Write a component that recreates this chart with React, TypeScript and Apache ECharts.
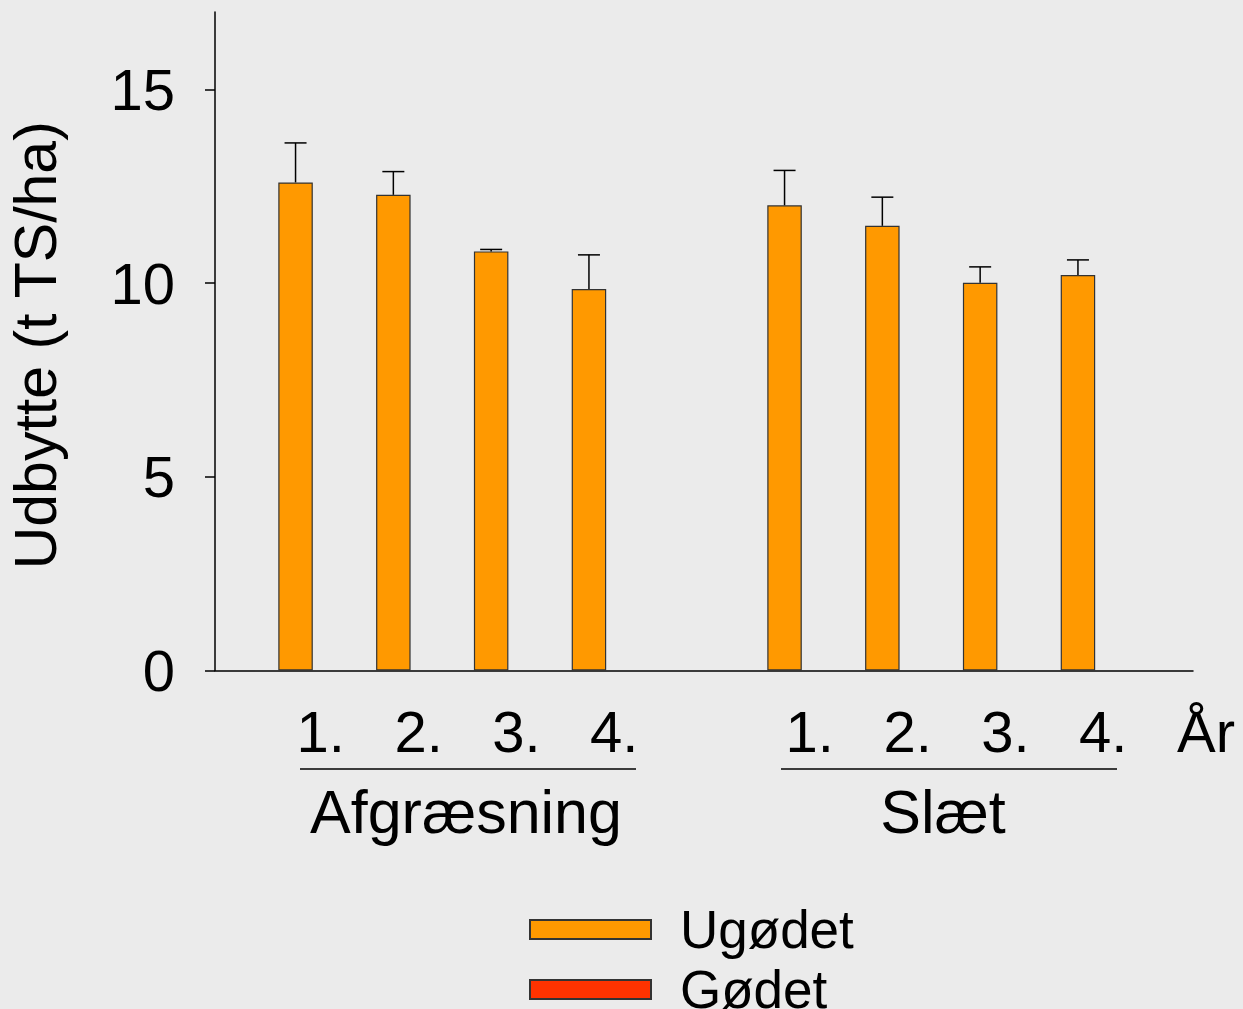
import React, { useEffect, useRef } from 'react';
import * as echarts from 'echarts';

const categories = ['', '1.', '2.', '3.', '4.', '', '1.', '2.', '3.', '4.', ''];
const ugodetValues = [null, 12.6, 12.28, 10.82, 9.85, null, 12.01, 11.48, 10.01, 10.21, null];
const ugodetErrors = [null, 1.02, 0.6, 0.05, 0.88, null, 0.9, 0.74, 0.41, 0.39, null];
const godetValues = [null, null, null, null, null, null, null, null, null, null, null];
const yTickValues = [0, 5, 10, 15];
const groupNames = ['Afgræsning', 'Slæt'];
const seriesNames = ['Ugødet', 'Gødet'];
const yAxisTitle = 'Udbytte (t TS/ha)';
const xAxisUnit = 'År';

const FONT = '"Liberation Sans", Arial, Helvetica, sans-serif';
const BAR_W = 34.5;

export default function App() {
  const ref = useRef<HTMLDivElement>(null);

  useEffect(() => {
    if (!ref.current) return;
    const chart = echarts.init(ref.current, undefined, { renderer: 'svg' });

    const errData: any[] = [];
    ugodetValues.forEach((v, i) => {
      if (v != null && ugodetErrors[i] != null) {
        errData.push([i, v, v + (ugodetErrors[i] as number)]);
      }
    });

    const option: any = {
      animation: false,
      backgroundColor: '#ebebeb',
      textStyle: { fontFamily: FONT, color: '#000' },
      grid: {
        left: 215,
        right: 50,
        top: 12,
        bottom: 338.5,
        containLabel: false,
        outerBoundsMode: 'none',
      },
      xAxis: {
        type: 'category',
        data: categories,
        boundaryGap: false,
        axisLine: { show: true, lineStyle: { color: '#000', width: 1.5 } },
        axisTick: { show: false },
        axisLabel: {
          interval: 0,
          fontSize: 58,
          color: '#000',
          fontFamily: FONT,
          margin: 32,
          padding: [0, 0, 0, 16],
        },
        splitLine: { show: false },
      },
      yAxis: {
        type: 'value',
        min: 0,
        max: 17,
        interval: 5,
        name: yAxisTitle,
        nameLocation: 'middle',
        nameRotate: 90,
        nameGap: 150,
        nameTextStyle: { fontSize: 59, color: '#000', fontFamily: FONT, padding: [0, 8, 0, 0] },
        axisLine: { show: true, onZero: false, lineStyle: { color: '#000', width: 1.5 } },
        axisTick: {
          show: true,
          length: 10,
          customValues: yTickValues,
          lineStyle: { color: '#000', width: 1.5 },
        },
        axisLabel: {
          fontSize: 58,
          color: '#000',
          fontFamily: FONT,
          margin: 40,
          customValues: yTickValues,
        },
        splitLine: { show: false },
      },
      legend: {
        data: seriesNames,
        orient: 'vertical',
        left: 529,
        top: 903,
        height: 200,
        padding: 0,
        itemWidth: 121,
        itemHeight: 19,
        itemGap: 7,
        icon: 'rect',
        selectedMode: false,
        textStyle: {
          fontSize: 53,
          lineHeight: 51,
          color: '#000',
          fontFamily: FONT,
          padding: [0, 0, 0, 24],
        },
      },
      series: [
        {
          name: seriesNames[0],
          type: 'bar',
          data: ugodetValues,
          barWidth: BAR_W,
          barGap: '0%',
          itemStyle: { color: '#ff9900', borderColor: '#333', borderWidth: 1.2 },
        },
        {
          name: seriesNames[1],
          type: 'bar',
          data: godetValues,
          barWidth: BAR_W,
          barGap: '0%',
          itemStyle: { color: '#ff3300', borderColor: '#333', borderWidth: 1.2 },
        },
        {
          name: 'err',
          type: 'custom',
          data: errData,
          z: 3,
          renderItem: (params: any, api: any) => {
            const i = api.value(0);
            const v = api.value(1);
            const top = api.value(2);
            const base = api.coord([i, v]);
            const tp = api.coord([i, top]);
            const x = base[0] - BAR_W / 2;
            const st = { stroke: '#000', lineWidth: 1.5 };
            return {
              type: 'group',
              children: [
                { type: 'line', shape: { x1: x, y1: base[1], x2: x, y2: tp[1] }, style: st },
                { type: 'line', shape: { x1: x - 11, y1: tp[1], x2: x + 11, y2: tp[1] }, style: st },
              ],
            };
          },
        },
      ],
      graphic: [
        { type: 'line', shape: { x1: 300, y1: 769, x2: 636, y2: 769 }, style: { stroke: '#000', lineWidth: 1.5 } },
        { type: 'line', shape: { x1: 781, y1: 769, x2: 1117, y2: 769 }, style: { stroke: '#000', lineWidth: 1.5 } },
        {
          type: 'text', x: 466, y: 812,
          style: { text: groupNames[0], fontSize: 61, fontFamily: FONT, fill: '#000', align: 'center', verticalAlign: 'middle' },
        },
        {
          type: 'text', x: 943, y: 812,
          style: { text: groupNames[1], fontSize: 61, fontFamily: FONT, fill: '#000', align: 'center', verticalAlign: 'middle' },
        },
        {
          type: 'text', x: 1177, y: 731,
          style: { text: xAxisUnit, fontSize: 58, fontFamily: FONT, fill: '#000', align: 'left', verticalAlign: 'middle' },
        },
      ],
    };

    chart.setOption(option);
    return () => chart.dispose();
  }, []);

  return (
    <div
      ref={ref}
      style={{ position: 'absolute', left: 0, top: 0, width: 1243, height: 1009 }}
    />
  );
}
